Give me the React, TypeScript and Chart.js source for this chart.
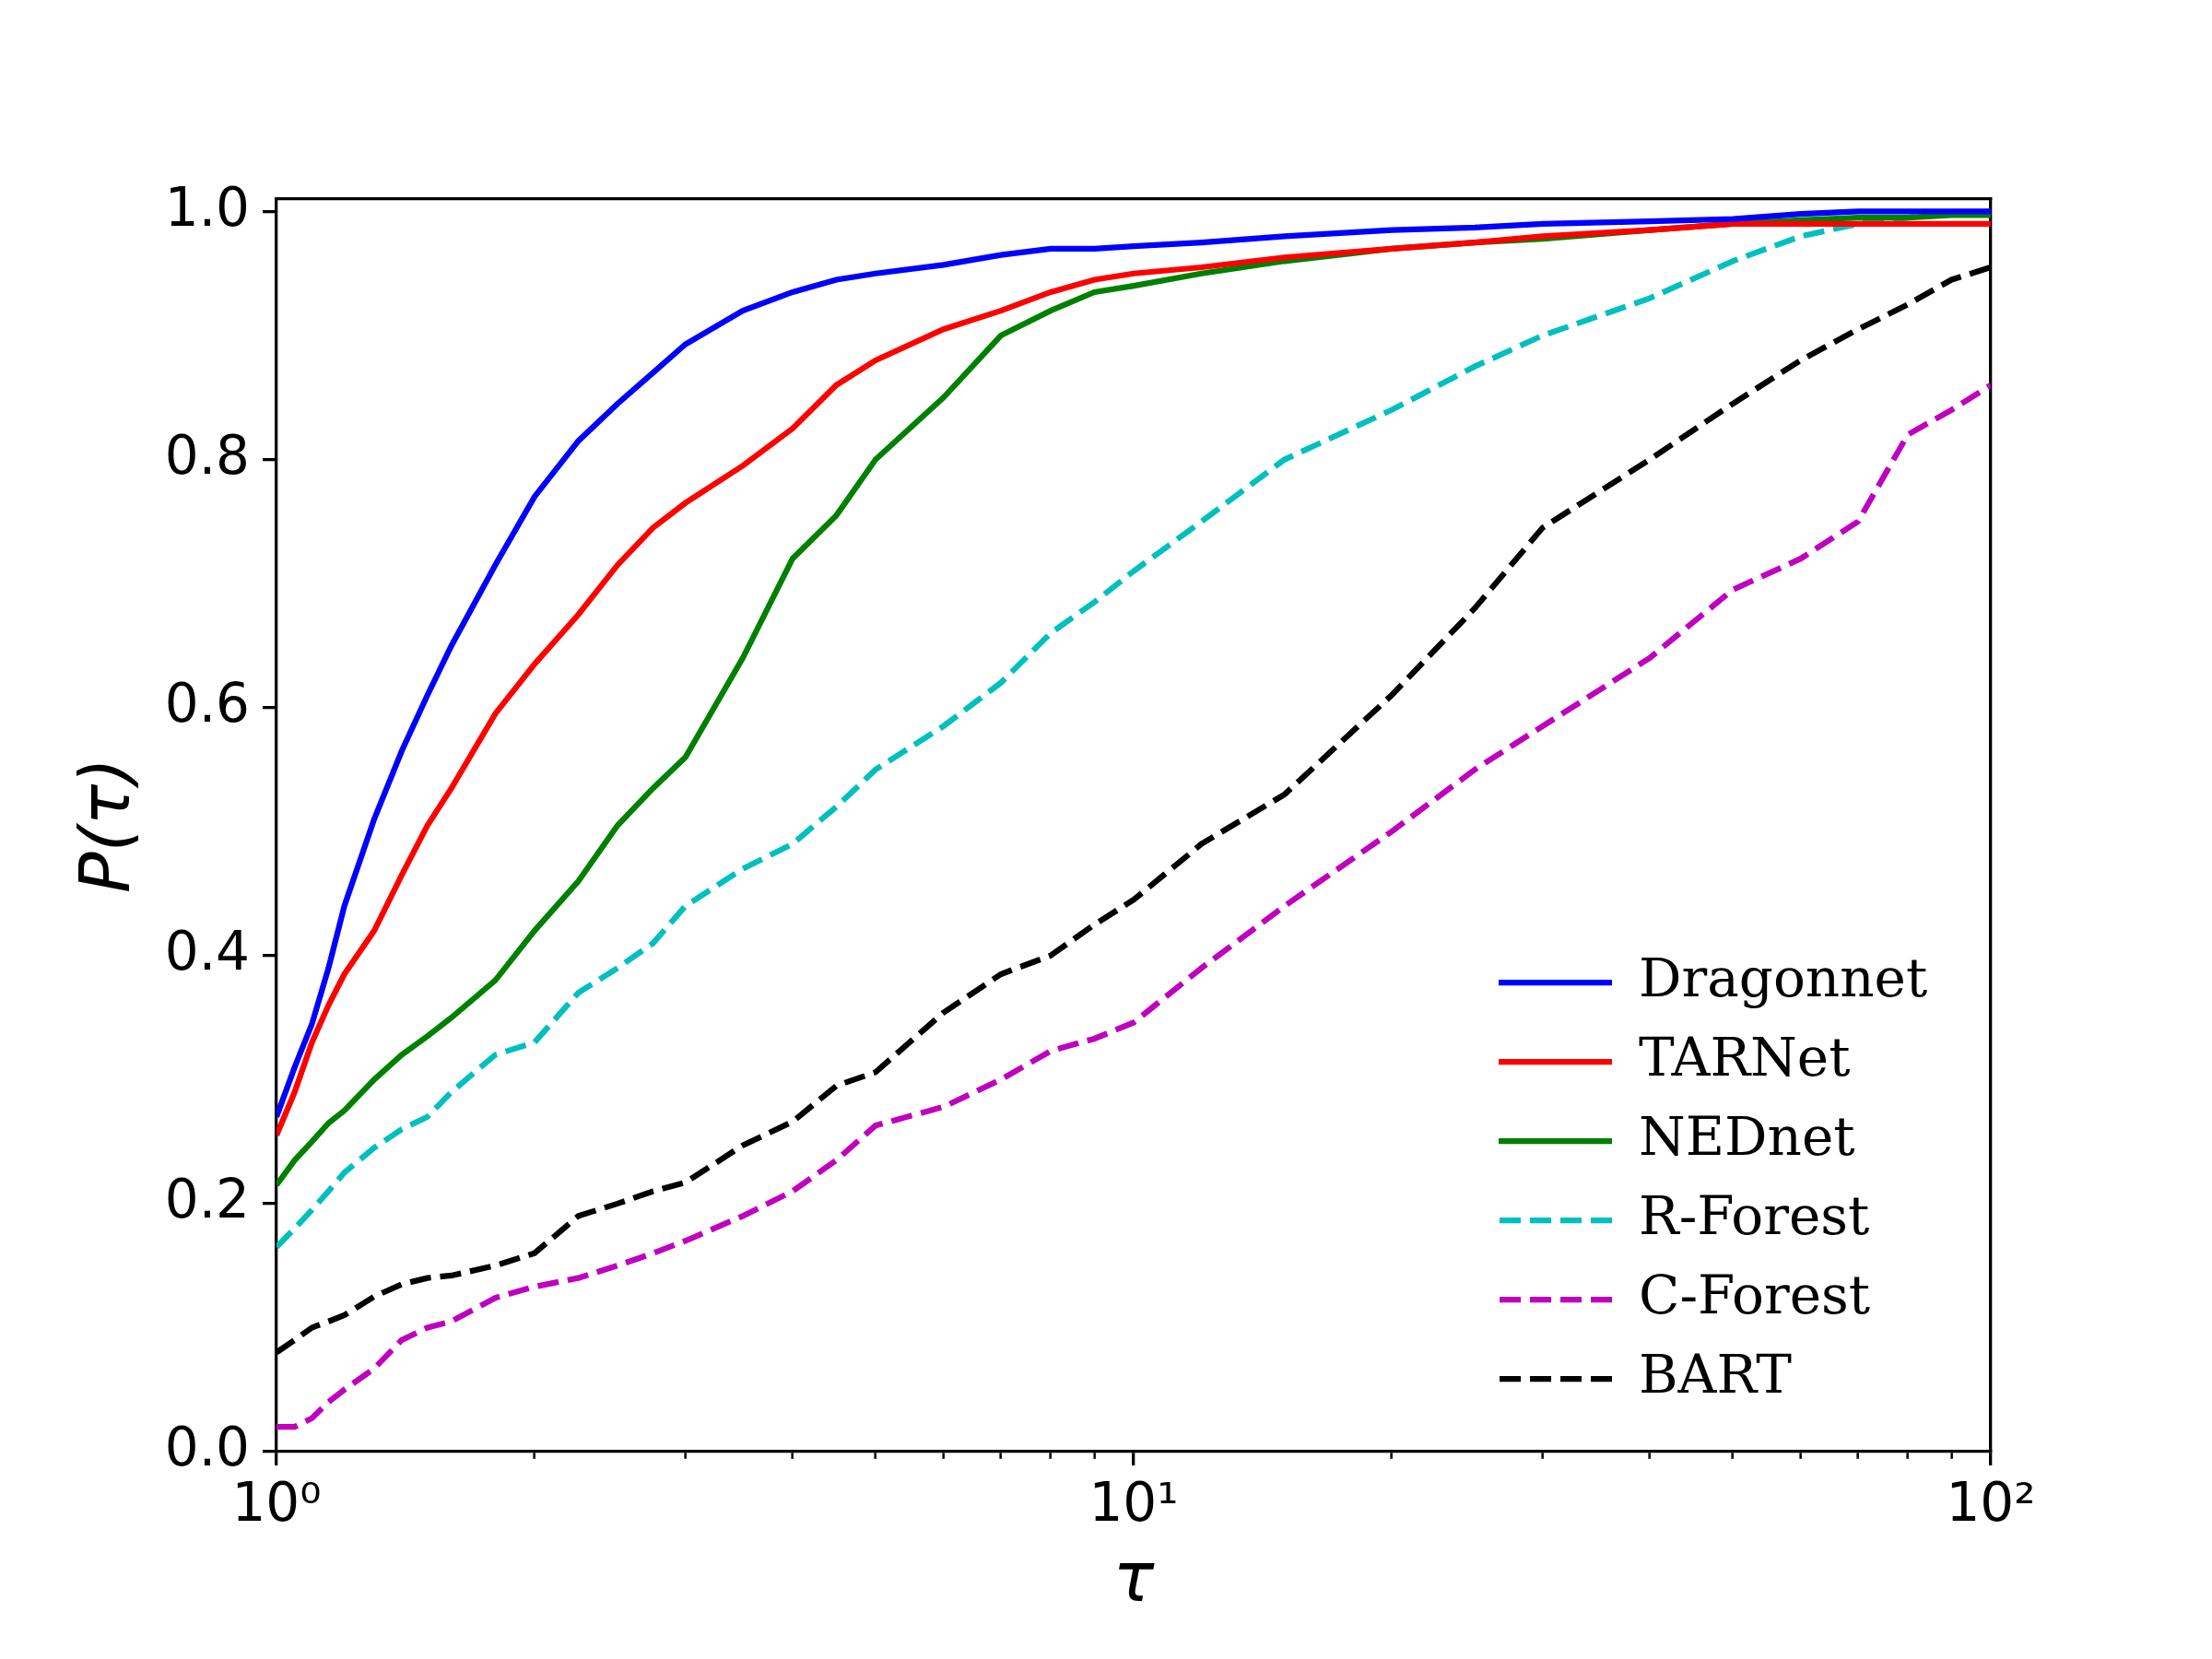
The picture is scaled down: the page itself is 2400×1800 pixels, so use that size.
import React, { useEffect, useRef } from 'react';
import { Chart, registerables } from 'chart.js';

Chart.register(...registerables);

// performance profile sample points (tau) and the share of problems solved
const taus = [1, 1.05, 1.1, 1.15, 1.2, 1.3, 1.4, 1.5, 1.6, 1.8, 2, 2.25, 2.5, 2.75, 3, 3.5, 4, 4.5, 5, 6, 7, 8, 9, 10, 12, 15, 20, 25, 30, 40, 50, 60, 70, 80, 90, 100];

const dragonnet = [0.27, 0.31, 0.345, 0.39, 0.44, 0.51, 0.565, 0.61, 0.65, 0.715, 0.77, 0.815, 0.845, 0.87, 0.893, 0.92, 0.935, 0.945, 0.95, 0.957, 0.965, 0.97, 0.97, 0.972, 0.975, 0.98, 0.985, 0.987, 0.99, 0.992, 0.994, 0.998, 1.0, 1.0, 1.0, 1.0];
const tarnet = [0.255, 0.29, 0.33, 0.36, 0.385, 0.42, 0.465, 0.505, 0.535, 0.595, 0.635, 0.675, 0.715, 0.745, 0.765, 0.795, 0.825, 0.86, 0.88, 0.905, 0.92, 0.935, 0.945, 0.95, 0.955, 0.963, 0.97, 0.975, 0.98, 0.985, 0.99, 0.99, 0.99, 0.99, 0.99, 0.99];
const nednet = [0.215, 0.235, 0.25, 0.265, 0.275, 0.3, 0.32, 0.335, 0.35, 0.38, 0.42, 0.46, 0.505, 0.535, 0.56, 0.64, 0.72, 0.755, 0.8, 0.85, 0.9, 0.92, 0.935, 0.94, 0.95, 0.96, 0.97, 0.975, 0.978, 0.985, 0.99, 0.993, 0.995, 0.995, 0.997, 0.997];
const rForest = [0.165, 0.18, 0.195, 0.21, 0.225, 0.245, 0.26, 0.27, 0.29, 0.32, 0.33, 0.37, 0.39, 0.41, 0.44, 0.47, 0.49, 0.52, 0.55, 0.585, 0.62, 0.66, 0.685, 0.71, 0.75, 0.8, 0.84, 0.875, 0.9, 0.93, 0.96, 0.98, 0.99, 0.995, 0.998, 1.0];
const cForest = [0.02, 0.02, 0.027, 0.04, 0.05, 0.067, 0.09, 0.1, 0.105, 0.124, 0.133, 0.14, 0.15, 0.16, 0.17, 0.19, 0.21, 0.235, 0.263, 0.278, 0.3, 0.323, 0.333, 0.346, 0.39, 0.44, 0.5, 0.55, 0.585, 0.64, 0.695, 0.72, 0.75, 0.82, 0.84, 0.86];
const bart = [0.08, 0.09, 0.1, 0.105, 0.11, 0.125, 0.135, 0.14, 0.142, 0.15, 0.16, 0.19, 0.2, 0.21, 0.217, 0.247, 0.266, 0.295, 0.306, 0.354, 0.385, 0.4, 0.425, 0.445, 0.49, 0.53, 0.61, 0.68, 0.745, 0.8, 0.845, 0.88, 0.905, 0.925, 0.945, 0.955];

const xTicks = [1, 2, 3, 4, 5, 6, 7, 8, 9, 10, 20, 30, 40, 50, 60, 70, 80, 90, 100];
const xMajorTicks = [1, 10, 100];
const xMajorLabels = ['10⁰', '10¹', '10²'];
const yTicks = [0, 0.2, 0.4, 0.6, 0.8, 1.0];

const series = [
  { label: 'Dragonnet', values: dragonnet, color: '#0000ff', dashed: false },
  { label: 'TARNet', values: tarnet, color: '#ff0000', dashed: false },
  { label: 'NEDnet', values: nednet, color: '#008000', dashed: false },
  { label: 'R-Forest', values: rForest, color: '#00bfbf', dashed: true },
  { label: 'C-Forest', values: cForest, color: '#bf00bf', dashed: true },
  { label: 'BART', values: bart, color: '#000000', dashed: true },
];

const LINE_W = 6.25;
const DASH = [23, 10];
const SPINE_W = 3.3;
const TICK_FONT = { family: 'DejaVu Sans', size: 58 };
const LABEL_FONT = { family: 'DejaVu Sans', size: 74, style: 'italic' as const };

// move the built-in legend to the lower right inside the plot
const legendPlacer = {
  id: 'legendPlacer',
  afterLayout(chart: any) {
    const lg = chart.legend;
    if (!lg) return;
    const w = lg.width;
    const h = lg.height;
    lg.left = 1598;
    lg.right = 1598 + w;
    lg.top = 1009;
    lg.bottom = 1009 + h;
  },
};

const App: React.FC = () => {
  const canvasRef = useRef<HTMLCanvasElement>(null);
  const chartRef = useRef<Chart | null>(null);

  useEffect(() => {
    if (!canvasRef.current) return;
    const ctx = canvasRef.current.getContext('2d');
    if (!ctx) return;

    chartRef.current = new Chart(ctx, {
      type: 'line',
      data: {
        datasets: series.map(s => ({
          label: s.label,
          data: taus.map((t, i) => ({ x: t, y: s.values[i] })),
          borderColor: s.color,
          backgroundColor: s.color,
          borderWidth: LINE_W,
          borderDash: s.dashed ? DASH : [],
          borderCapStyle: 'butt' as const,
          pointRadius: 0,
          tension: 0,
          fill: false,
        })),
      },
      plugins: [legendPlacer],
      options: {
        responsive: false,
        animation: false,
        devicePixelRatio: 1,
        layout: { padding: { left: 0, top: 216, right: 240, bottom: 0 } },
        plugins: {
          tooltip: { enabled: false },
          legend: {
            position: 'chartArea',
            align: 'start',
            labels: {
              usePointStyle: true,
              pointStyle: 'line',
              pointStyleWidth: 123,
              padding: 28,
              color: '#000',
              font: { family: 'DejaVu Serif', size: 58 },
              generateLabels: (chart: any) => {
                const items = Chart.defaults.plugins.legend.labels.generateLabels(chart);
                return items.map((it: any, i: number) => ({
                  ...it,
                  strokeStyle: series[i].color,
                  fillStyle: series[i].color,
                  lineWidth: LINE_W,
                  lineCap: 'butt',
                  lineDash: series[i].dashed ? DASH : [],
                  lineDashOffset: series[i].dashed ? 32 : 0,
                }));
              },
            },
          },
        },
        scales: {
          x: {
            type: 'logarithmic',
            position: 'bottom',
            min: 1,
            max: 100,
            afterBuildTicks: (scale: any) => {
              scale.ticks = xTicks.map(v => ({ value: v, major: xMajorTicks.includes(v) }));
            },
            afterFit: (scale: any) => { scale.height = 225; },
            ticks: {
              autoSkip: false,
              maxRotation: 0,
              padding: 10,
              color: '#000',
              font: TICK_FONT,
              callback: (v: any) => {
                const i = xMajorTicks.indexOf(Number(v));
                return i >= 0 ? xMajorLabels[i] : '';
              },
            },
            grid: {
              drawOnChartArea: false,
              drawTicks: true,
              tickLength: 15,
              lineWidth: SPINE_W,
              tickColor: '#000',
              tickWidth: (c: any) => (c.tick && c.tick.major ? SPINE_W : 2.5),
              tickBorderDash: (c: any) => (c.tick && c.tick.major ? [] : [6.5, 100]),
            },
            border: { display: true, color: '#000', width: SPINE_W },
            title: {
              display: true,
              text: 'τ',
              color: '#000',
              font: LABEL_FONT,
              padding: { top: 0, bottom: 38 },
            },
          },
          xTop: {
            type: 'logarithmic',
            position: 'top',
            min: 1,
            max: 100,
            ticks: { display: false },
            grid: { drawOnChartArea: false, drawTicks: false, lineWidth: SPINE_W },
            border: { display: true, color: '#000', width: SPINE_W },
          },
          y: {
            type: 'linear',
            position: 'left',
            min: 0,
            max: 1.01,
            afterBuildTicks: (scale: any) => {
              scale.ticks = yTicks.map(v => ({ value: v }));
            },
            afterFit: (scale: any) => { scale.width = 300; },
            ticks: {
              padding: 14,
              color: '#000',
              font: TICK_FONT,
              callback: (v: any) => Number(v).toFixed(1),
            },
            grid: {
              drawOnChartArea: false,
              drawTicks: true,
              tickLength: 15,
              lineWidth: SPINE_W,
              tickColor: '#000',
              tickWidth: SPINE_W,
            },
            border: { display: true, color: '#000', width: SPINE_W },
            title: {
              display: true,
              text: 'P(τ)',
              color: '#000',
              font: LABEL_FONT,
              padding: { top: 76, bottom: 0 },
            },
          },
          yRight: {
            type: 'linear',
            position: 'right',
            min: 0,
            max: 1.01,
            ticks: { display: false },
            grid: { drawOnChartArea: false, drawTicks: false, lineWidth: SPINE_W },
            border: { display: true, color: '#000', width: SPINE_W },
          },
        },
      },
    } as any);

    return () => {
      if (chartRef.current) {
        chartRef.current.destroy();
        chartRef.current = null;
      }
    };
  }, []);

  return (
    <div style={{ position: 'absolute', left: 0, top: 0, width: 2400, height: 1800, background: '#fff' }}>
      <canvas ref={canvasRef} width={2400} height={1800} style={{ display: 'block' }} />
    </div>
  );
};

export default App;
